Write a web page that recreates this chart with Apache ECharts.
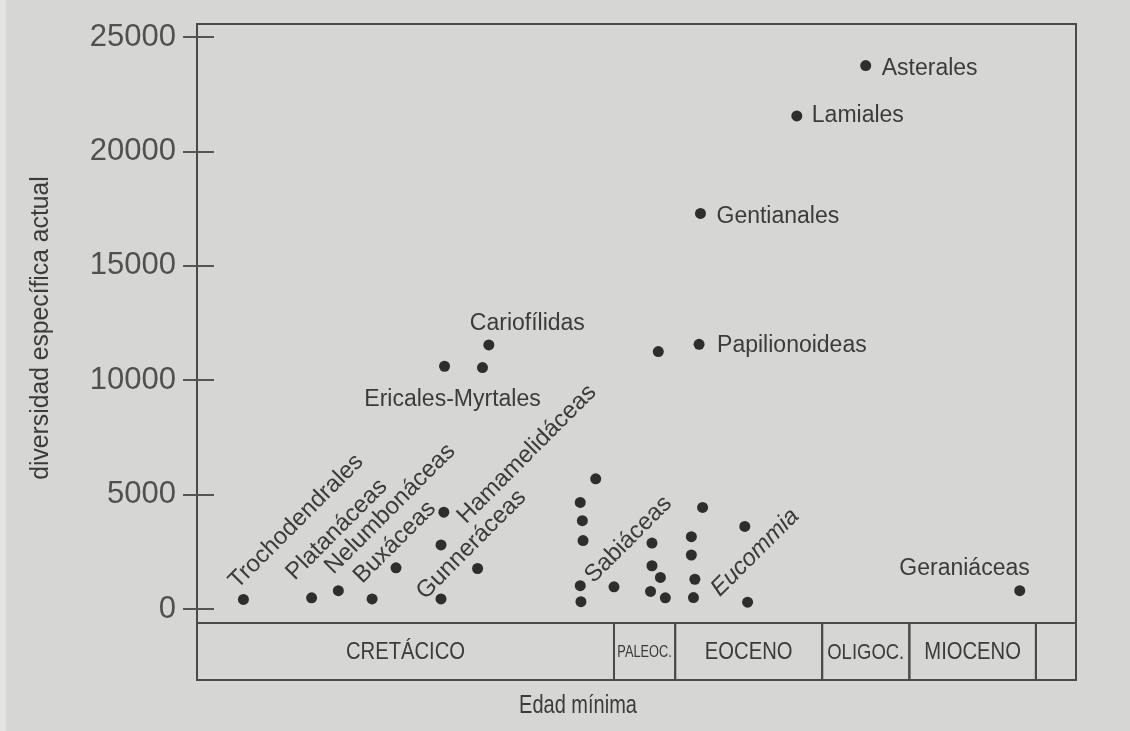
<!DOCTYPE html>
<html>
<head>
<meta charset="utf-8">
<script src="https://cdn.jsdelivr.net/npm/echarts@6/dist/echarts.min.js"></script>
<style>
html,body{margin:0;padding:0;background:#d6d6d4;}
#chart{width:1130px;height:731px;}
</style>
</head>
<body>
<div id="chart"></div>
<script>
// ---- data (age in Ma, current species diversity) ----
const ages = [118.4,108.7,104.9,100.1,96.7,89.9,90.3,85.1,90.3,68.3,70.5,70.2,70.1,70.5,70.4,65.7,60.3,60.3,59.1,60.5,58.4,53.1,54.7,54.7,54.2,54.4,47.1,46.7,83.5,89.8,84.4,59.4,53.6,53.4,39.7,29.9,8.0];
const species = [420,490,800,440,1800,4230,2800,1770,440,5690,4660,3860,2990,1020,320,970,2880,1890,1380,770,490,4440,3160,2360,1300,500,3610,300,11540,10610,10550,11250,11570,17290,21550,23750,800];
const names = ['Trochodendrales','Platanáceas','Nelumbonáceas','Buxáceas','','Hamamelidáceas','','','Gunneráceas','','','','','Sabiáceas','','','','','','','','','','','','','','Eucommia','Cariofílidas','Ericales-Myrtales','','','Papilionoideas','Gentianales','Lamiales','Asterales','Geraniáceas'];
const yMin = 0, yMax = 25000, yStep = 5000;
const periodNames = ['CRETÁCICO','PALEOC.','EOCENO','OLIGOC.','MIOCENO',''];
const periodStart = [125,65.7,57.0,36.1,23.7,5.7];
const periodEnd = [65.7,57.0,36.1,23.7,5.7,0];

// ---- label layout (style only) ----
const R = 5.5;
const labelLayout = {
  'Trochodendrales':{rot:45,dx:-2,dy:-6},
  'Platanáceas':{rot:45,dx:-13,dy:-13},
  'Nelumbonáceas':{rot:45,dx:-1,dy:-12},
  'Buxáceas':{rot:45,dx:-6,dy:-11},
  'Gunneráceas':{rot:45,dx:-12,dy:5},
  'Hamamelidáceas':{rot:45,dx:26,dy:16},
  'Sabiáceas':{rot:45,dx:17,dy:2},
  'Eucommia':{rot:45,dx:-24,dy:-1,italic:true},
  'Asterales':{dx:16,dy:3,align:'left'},
  'Lamiales':{dx:15,dy:0,align:'left'},
  'Gentianales':{dx:16,dy:3,align:'left'},
  'Papilionoideas':{dx:18,dy:1,align:'left'},
  'Cariofílidas':{dx:-19,dy:-21,align:'left'},
  'Ericales-Myrtales':{dx:8,dy:33,align:'center'},
  'Geraniáceas':{dx:10,dy:-22,align:'right'}
};
const periodStyle = {
  'CRETÁCICO':{size:23,sx:0.88},
  'PALEOC.':{size:16,sx:0.8},
  'EOCENO':{size:23,sx:0.88},
  'OLIGOC.':{size:22,sx:0.84},
  'MIOCENO':{size:23,sx:0.88}
};

const TXT = '#3b3b3b';
const FONT = '"Liberation Sans", Arial, sans-serif';

const scatterData = ages.map((a, i) => {
  const item = {value:[a, species[i]], name:names[i]};
  const L = labelLayout[names[i]];
  if (L) {
    item.label = {
      show:true,
      formatter:names[i],
      position:[L.dx + R, L.dy + R],
      rotate:L.rot || 0,
      fontSize:L.rot ? 24 : 23,
      align:L.rot ? 'left' : L.align,
      verticalAlign:L.rot ? 'bottom' : 'middle',
      fontStyle:L.italic ? 'italic' : 'normal'
    };
  }
  return item;
});

const chart = echarts.init(document.getElementById('chart'), null, {renderer:'canvas'});
chart.setOption({
  backgroundColor:'#d6d6d4',
  animation:false,
  grid:[
    {left:197, right:54, top:37, bottom:122, show:false},
    {left:197, right:54, top:623, height:57, show:false},
    {left:197, right:54, top:24, bottom:108, show:true, borderColor:'#4a4a4a', borderWidth:2, backgroundColor:'transparent'}
  ],
  xAxis:[
    {type:'value', gridIndex:0, min:0, max:125, inverse:true, show:false, axisLine:{onZero:false}},
    {type:'value', gridIndex:1, min:0, max:125, inverse:true, show:false, axisLine:{onZero:false}},
    {type:'value', gridIndex:2, min:0, max:1, show:false, axisLine:{onZero:false}}
  ],
  yAxis:[
    {type:'value', gridIndex:0, min:yMin, max:yMax, interval:yStep, position:'left', offset:-17,
      axisLine:{show:false, onZero:false},
      axisTick:{show:true, length:31, inside:false, lineStyle:{color:'#555', width:2}},
      axisLabel:{show:true, margin:38, fontSize:31, fontFamily:FONT, color:'#505050',
        formatter:v => String(v)},
      splitLine:{show:false}},
    {type:'value', gridIndex:1, min:0, max:1, show:false, axisLine:{onZero:false}},
    {type:'value', gridIndex:2, min:0, max:1, show:false, axisLine:{onZero:false}}
  ],
  graphic:[
    {type:'rect', left:0, top:0, shape:{x:0, y:0, width:6, height:731}, style:{fill:'#e4e4e2'}, z:-1},
    {type:'text', x:41, y:328, rotation:Math.PI/2, scaleX:0.95,
      style:{text:'diversidad específica actual', fontSize:26, fontFamily:FONT, fill:TXT,
        align:'center', verticalAlign:'middle', textAlign:'center', textVerticalAlign:'middle'}},
    {type:'text', x:578, y:706, scaleX:0.8,
      style:{text:'Edad mínima', fontSize:25, fontFamily:FONT, fill:TXT,
        align:'center', verticalAlign:'middle', textAlign:'center', textVerticalAlign:'middle'}}
  ],
  series:[
    {type:'scatter', xAxisIndex:0, yAxisIndex:0, symbol:'circle', symbolSize:11, clip:false,
      itemStyle:{color:'#2e2e2e', opacity:1},
      label:{show:false, color:TXT, fontSize:23, fontFamily:FONT},
      emphasis:{disabled:true},
      data:scatterData},
    {type:'custom', xAxisIndex:1, yAxisIndex:1,
      data:periodStart.map((s, i) => [s, periodEnd[i]]),
      renderItem:function(params, api){
        const a = api.coord([api.value(0), 1]);
        const b = api.coord([api.value(1), 0]);
        const nm = periodNames[params.dataIndex];
        const st = periodStyle[nm] || {size:22, sx:0.88};
        return {type:'group', children:[
          {type:'rect', shape:{x:a[0], y:a[1], width:b[0]-a[0], height:b[1]-a[1]},
            style:{fill:'none', stroke:'#4a4a4a', lineWidth:2}},
          {type:'text', x:(a[0]+b[0])/2, y:(a[1]+b[1])/2 + 1, scaleX:st.sx,
            style:{text:nm, fontSize:st.size, fontFamily:FONT, fill:TXT,
              align:'center', verticalAlign:'middle', textAlign:'center', textVerticalAlign:'middle'}}
        ]};
      }}
  ]
});
</script>
</body>
</html>
